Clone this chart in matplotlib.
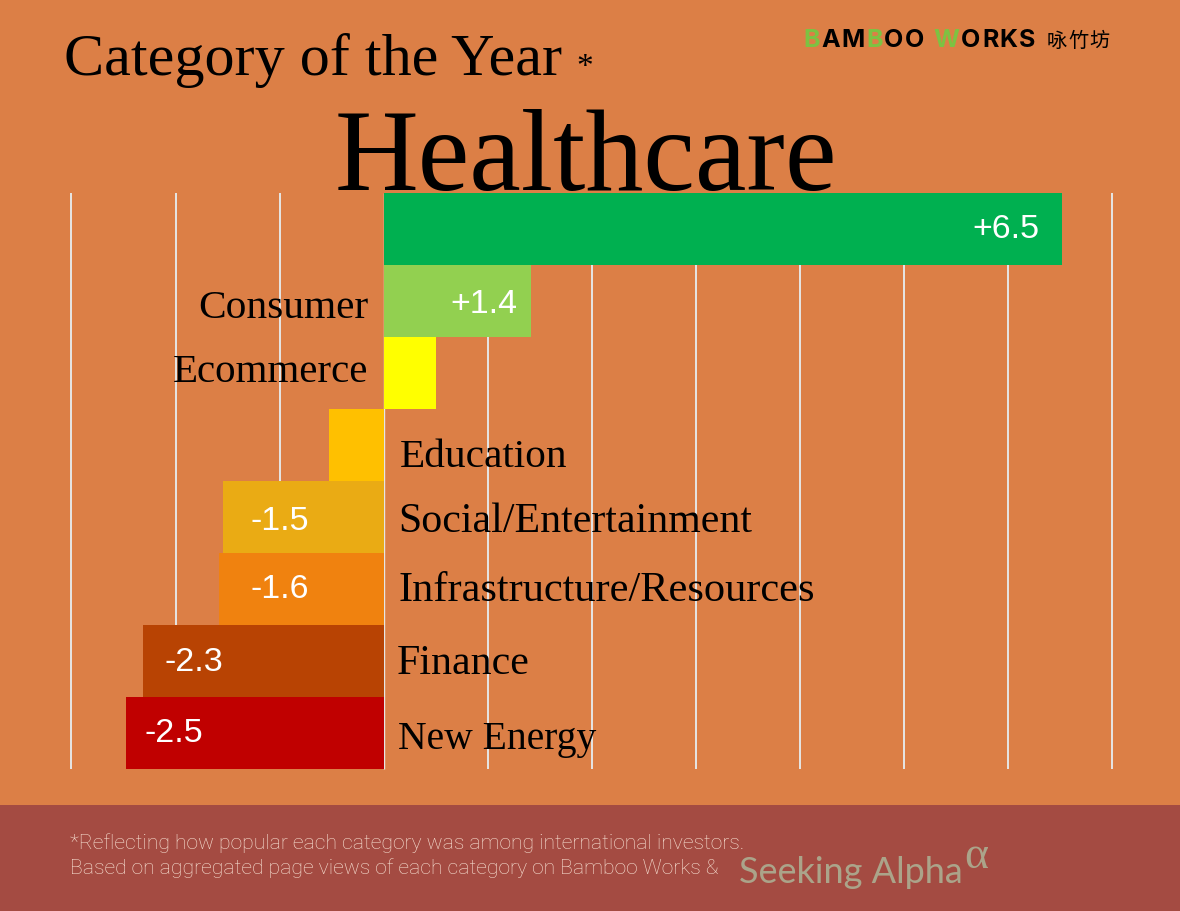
import matplotlib
matplotlib.use("Agg")
import matplotlib.pyplot as plt
from matplotlib.patches import Rectangle

W, H = 1180, 912
BG = "#DC7F46"
FOOTER = "#A44B42"
SERIF = "Liberation Serif"

categories = ["Healthcare", "Consumer", "Ecommerce", "Education",
              "Social/Entertainment", "Infrastructure/Resources", "Finance", "New Energy"]
values = [6.52, 1.41, 0.5, -0.53, -1.54, -1.58, -2.31, -2.48]
value_labels = ["+6.5", "+1.4", "", "", "-1.5", "-1.6", "-2.3", "-2.5"]
bar_colors = ["#00B050", "#92D050", "#FFFF00", "#FFC000",
              "#EAAB14", "#F0820F", "#B84303", "#C00000"]
x_ticks = list(range(-3, 8))

# pixel places of the labels, by hand
name_xy = [None, (368.5, 308), (368.5, 373), (400, 458), (398, 522), (399, 591), (397, 664), (398, 739)]
name_size = [None, 29.8, 29.5, 29.7, 30.2, 30.5, 30.2, 28.5]
value_xy = [(1039, 230), (517, 305), None, None, (250, 521), (250, 590), (165, 663), (144, 734)]

fig = plt.figure(figsize=(W / 100, H / 100), dpi=100, facecolor=BG)


def px_text(x, y, s, **kw):
    return fig.text(x / W, 1 - y / H, s, **kw)


fig.add_artist(Rectangle((0, 0), 1, (H - 805.6) / H, transform=fig.transFigure,
                         facecolor=FOOTER, edgecolor="none"))

# chart axes cover -3..7 and the eight rows
ax = fig.add_axes([71.45 / W, 1 - 769.6 / H, 1041 / W, 576 / H])
ax.patch.set_alpha(0)
for spine in ax.spines.values():
    spine.set_visible(False)
ax.set_xlim(x_ticks[0], x_ticks[-1])
ax.set_ylim(len(values) - 0.5, -0.5)
ax.set_xticks([])
ax.set_yticks([])
for t in x_ticks:
    ax.axvline(t, color="#E6E6E6", lw=1.0 if t == 0 else 1.4, zorder=1,
               clip_on=False, solid_capstyle="butt")
ax.barh(range(len(values)), values, height=1.0, color=bar_colors, zorder=2)

px_text(64, 75, "Category of the Year", family=SERIF, fontsize=43.3, color="black")
px_text(576, 76, "*", family=SERIF, fontsize=24, color="black")
px_text(585.5, 190, categories[0], family=SERIF, fontsize=83.5, color="black", ha="center")

for name, xy, size in zip(categories, name_xy, name_size):
    if xy is None:
        continue
    px_text(xy[0], xy[1], name, family=SERIF, fontsize=size, color="black",
            ha="right" if xy[0] < 384 else "left", va="center")

for lab, xy in zip(value_labels, value_xy):
    if xy is None:
        continue
    px_text(xy[0], xy[1], lab, family="Liberation Sans", fontsize=24.5, color="white",
            ha="right" if lab.startswith("+") else "left", va="center")

# logo, letter by letter so the green ones can differ
logo_x = 803
fig.canvas.draw()
rend = fig.canvas.get_renderer()
for ch in "BAMBOO WORKS":
    col = "#7DC242" if ch in "BW" else "black"
    t = px_text(logo_x, 47, ch, family="Inter", fontsize=18, fontweight="bold", color=col)
    logo_x += t.get_window_extent(rend).width + 1.5 if ch != " " else 8
for i, ch in enumerate("咏竹坊"):
    px_text(1046.5 + i * 21.5, 47, ch, family="Noto Sans CJK SC", fontsize=14.5,
            fontweight="medium", color="black")

px_text(70, 849, "*Reflecting how popular each category was among international investors.",
        family="Roboto", fontweight="light", fontsize=15.2, color="#F7E0D2")
px_text(70, 874, "Based on aggregated page views of each category on Bamboo Works &",
        family="Roboto", fontweight="light", fontsize=15.2, color="#F7E0D2")
px_text(739, 883, "Seeking Alpha", family="Lato", fontsize=26, color="#ABA48A")
px_text(964, 868, "α", family=SERIF, fontsize=33, color="#ABA48A")

fig.savefig("out.png", dpi=100, facecolor=BG)
